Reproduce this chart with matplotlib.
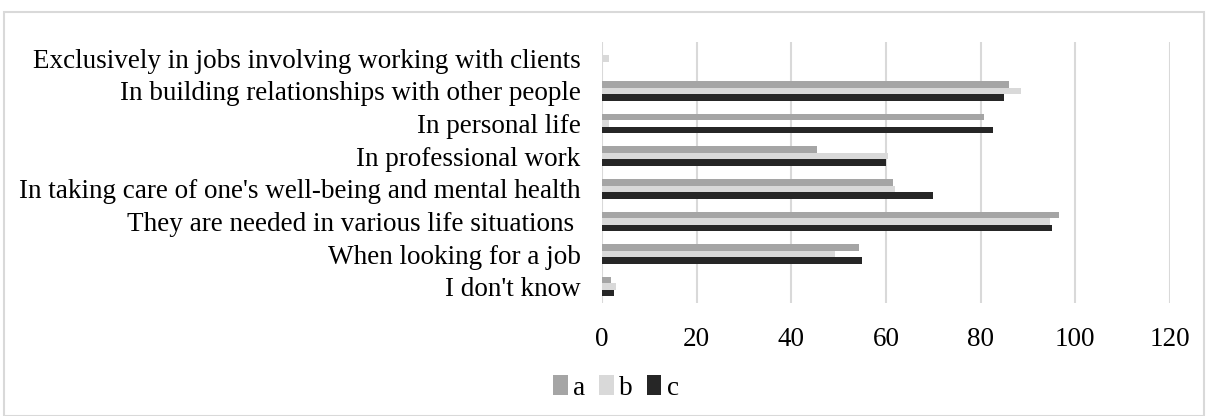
import matplotlib
matplotlib.use("Agg")
import matplotlib.pyplot as plt
import numpy as np
from matplotlib.patches import Rectangle

categories = [
    "Exclusively in jobs involving working with clients",
    "In building relationships with other people",
    "In personal life",
    "In professional work",
    "In taking care of one's well-being and mental health",
    "They are needed in various life situations ",
    "When looking for a job",
    "I don't know",
]
series_names = ["a", "b", "c"]
a_vals = [0, 86.0, 80.7, 45.5, 61.4, 96.5, 54.4, 1.8]
b_vals = [1.5, 88.6, 1.5, 60.4, 61.9, 94.7, 49.2, 2.9]
c_vals = [0, 84.9, 82.5, 60.0, 70.0, 95.0, 55.0, 2.5]
xticks = [0, 20, 40, 60, 80, 100, 120]
colors = ["#A5A5A5", "#D9D9D9", "#262626"]

plt.rcParams['font.family'] = ['Liberation Serif', 'DejaVu Serif']
FS = 19.5

fig = plt.figure(figsize=(12.08, 4.16), dpi=100)
ax = fig.add_axes([602/1208, 1-303/416, (1170-602)/1208, (303-42)/416])

n = len(categories)
y = np.arange(n)
bh = 0.2
for i, (vals, col, name) in enumerate(zip([a_vals, b_vals, c_vals], colors, series_names)):
    ax.barh(y + (i - 1) * bh, vals, height=bh, color=col, label=name, zorder=3)

ax.set_yticks(y)
ax.set_yticklabels(categories, fontsize=FS)
ax.set_ylim(n - 0.5, -0.5)
ax.set_xlim(0, 120)
ax.set_xticks(xticks)
ax.set_xticklabels([str(t) for t in xticks], fontsize=FS)
ax.tick_params(axis='both', length=0)
ax.tick_params(axis='y', pad=15.5)
ax.tick_params(axis='x', pad=17)
ax.grid(axis='x', color='#D9D9D9', linewidth=1.5, zorder=0)
for s in ax.spines.values():
    s.set_visible(False)

leg = fig.legend(loc='center', bbox_to_anchor=(616/1208, 1-388/416), ncol=3, frameon=False,
                 fontsize=FS, handlelength=0.55, handleheight=0.75, handletextpad=0.2,
                 columnspacing=0.5)

fig.patches.append(Rectangle((4/1208, 0), 1200/1208, 1-12/416, transform=fig.transFigure,
                             fill=False, edgecolor='#D9D9D9', linewidth=1.5))

fig.savefig("out.png", dpi=100)
